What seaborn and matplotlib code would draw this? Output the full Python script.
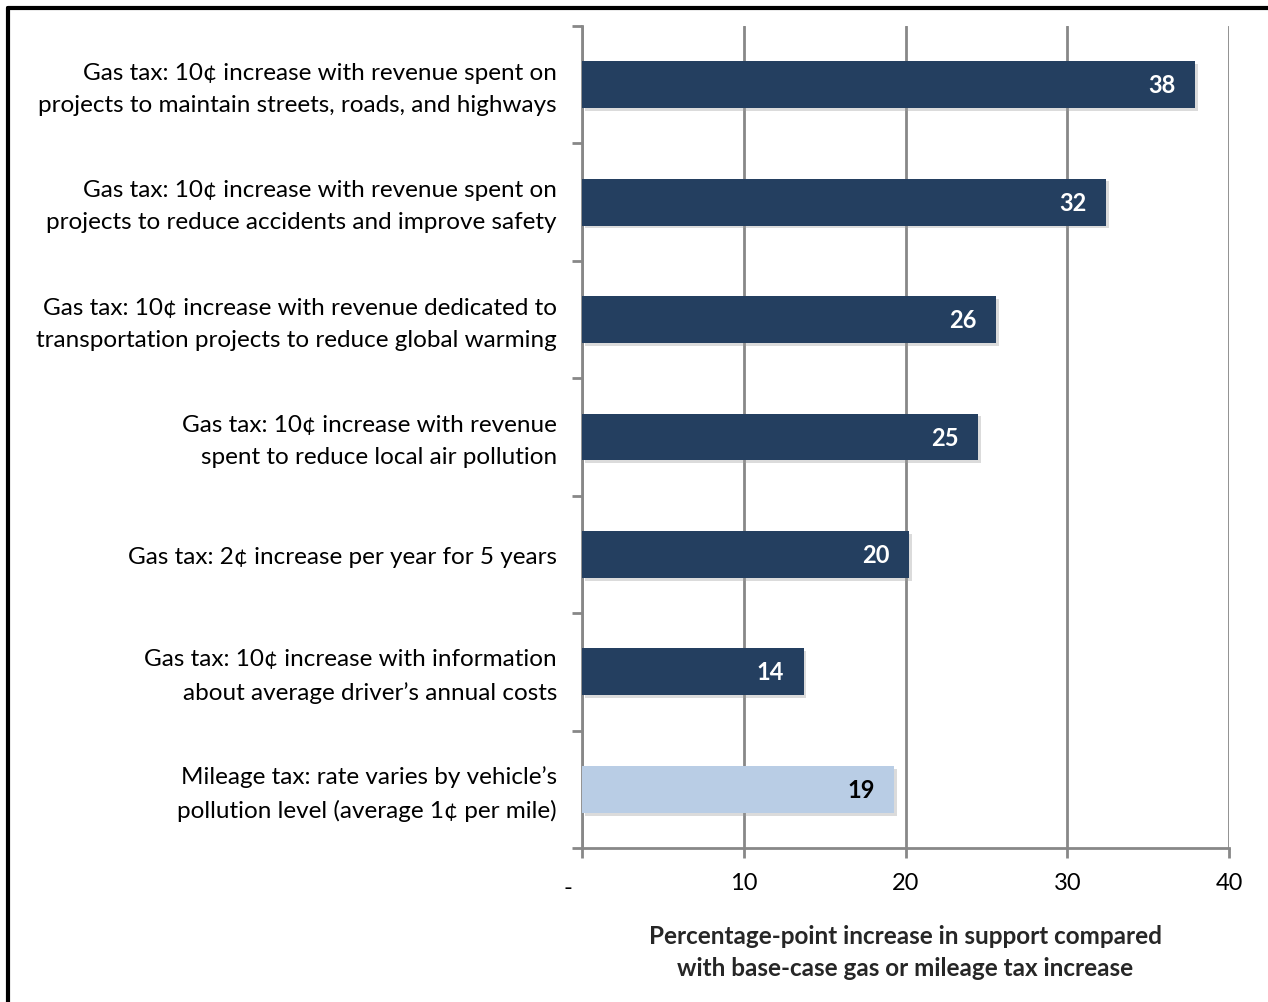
import matplotlib
matplotlib.use("Agg")
import matplotlib.pyplot as plt
import seaborn as sns
import pandas as pd
from matplotlib.lines import Line2D
from matplotlib.ticker import FixedLocator
from matplotlib.transforms import ScaledTranslation
import matplotlib.patheffects as pe

categories = [
    "Gas tax: 10¢ increase with revenue spent on\nprojects to maintain streets, roads, and highways",
    "Gas tax: 10¢ increase with revenue spent on\nprojects to reduce accidents and improve safety",
    "Gas tax: 10¢ increase with revenue dedicated to\ntransportation projects to reduce global warming",
    "Gas tax: 10¢ increase with revenue\nspent to reduce local air pollution",
    "Gas tax: 2¢ increase per year for 5 years",
    "Gas tax: 10¢ increase with information\nabout average driver’s annual costs",
    "Mileage tax: rate varies by vehicle’s\npollution level (average 1¢ per mile)",
]
values = [37.9, 32.4, 25.6, 24.5, 20.2, 13.7, 19.3]
value_labels = ["38", "32", "26", "25", "20", "14", "19"]
bar_colors = ["#243F60"] * 6 + ["#B9CDE5"]
label_colors = ["white"] * 6 + ["black"]
xticks = [0, 10, 20, 30, 40]
xticklabels = ["-", "10", "20", "30", "40"]
xlabel = "Percentage-point increase in support compared\nwith base-case gas or mileage tax increase"

sns.set_theme(style="white")
plt.rcParams["font.family"] = ["Lato", "DejaVu Sans"]

df = pd.DataFrame({"cat": categories, "val": values})

fig = plt.figure(figsize=(12.68, 10.03), dpi=100)
ax = fig.add_axes([582 / 1268, 1 - 849 / 1003, (1229 - 582) / 1268, (849 - 27) / 1003])

sns.barplot(data=df, x="val", y="cat", hue="cat", palette=bar_colors, orient="h",
            width=0.40, legend=False, ax=ax, zorder=3, saturation=1, linewidth=0)

for p in ax.patches:
    p.set_linewidth(0)
    p.set_path_effects([pe.SimplePatchShadow(offset=(2, -2), shadow_rgbFace="#9a9a9a", alpha=0.35),
                        pe.Normal()])

for i, (v, lab, c) in enumerate(zip(values, value_labels, label_colors)):
    ax.text(v - 1.2, i, lab, ha="right", va="center", color=c, fontsize=17,
            fontweight="bold", zorder=5)

ax.set_xlim(0, 40)
ax.set_ylim(6.5, -0.5)
ax.set_xticks(xticks)
ax.set_xticklabels(xticklabels, fontsize=17, color="black")
ax.tick_params(axis="x", bottom=True, length=7, width=2, color="#888888", pad=10, direction="out")
ax.tick_params(axis="y", which="major", left=True, length=0, pad=18, labelsize=17.5, labelcolor="black")
ax.yaxis.set_minor_locator(FixedLocator([i - 0.5 for i in range(len(categories) + 1)]))
ax.tick_params(axis="y", which="minor", left=True, length=7, width=2, color="#888888", direction="out")
for t in ax.get_yticklabels():
    t.set_horizontalalignment("right")
    t.set_multialignment("right")
    t.set_linespacing(1.65)
    if "\n" in t.get_text():
        t.set_transform(t.get_transform() + ScaledTranslation(0, 0.04, fig.dpi_scale_trans))

xt = ax.get_xticklabels()
xt[0].set_transform(xt[0].get_transform() + ScaledTranslation(-0.14, -0.05, fig.dpi_scale_trans))

ax.set_ylabel("")
ax.set_xlabel(xlabel, fontsize=17.5, fontweight="bold", labelpad=19, linespacing=1.5)
ax.xaxis.grid(True, color="#888888", linewidth=2, zorder=0)
ax.yaxis.grid(False)
ax.set_axisbelow(True)
for s in ["top", "right"]:
    ax.spines[s].set_visible(False)
for s in ["left", "bottom"]:
    ax.spines[s].set_color("#888888")
    ax.spines[s].set_linewidth(2)

# figure frame (top and left edges)
fig.add_artist(Line2D([8 / 1268, 8 / 1268], [0, 1 - 9 / 1003], transform=fig.transFigure,
                      color="black", linewidth=3))
fig.add_artist(Line2D([8 / 1268, 1], [1 - 9 / 1003, 1 - 9 / 1003], transform=fig.transFigure,
                      color="black", linewidth=3))

fig.savefig("out.png", dpi=100)
